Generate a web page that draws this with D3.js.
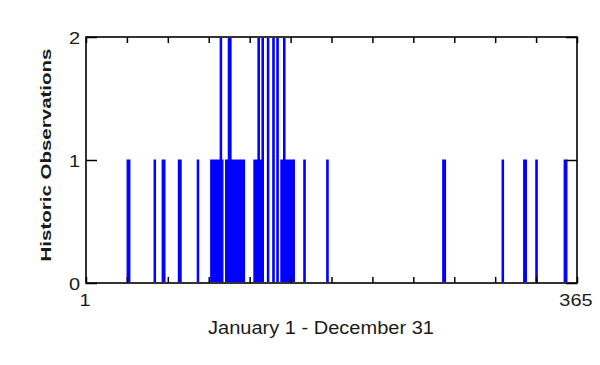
<!DOCTYPE html>
<html>
<head>
<meta charset="utf-8">
<script src="https://cdn.jsdelivr.net/npm/d3@7"></script>
<style>
  body { margin: 0; background: #fff; }
  svg { display: block; }
</style>
</head>
<body>
<svg width="600" height="365"></svg>
<script>
// days of the year that had observations, and how many on each
const obsDays = [
    32, 33, 52, 58, 59, 70, 71, 84,
    94, 95, 96, 97, 98, 99, 100, 101, 102,
    105, 106, 107, 108, 109, 110, 111, 112, 113, 114, 115, 116, 117, 118,
    126, 127, 128, 129, 130, 131, 132,
    136, 140, 143,
    146, 147, 148, 149, 150, 151, 152, 153, 154, 155,
    163, 180, 266, 267, 310, 326, 327, 335, 356, 357
];
const obsCounts = [
    1, 1, 1, 1, 1, 1, 1, 1,
    1, 1, 1, 1, 1, 1, 1, 2, 1,
    1, 1, 2, 2, 1, 1, 1, 1, 1, 1, 1, 1, 1, 1,
    1, 1, 1, 2, 1, 1, 2,
    2, 2, 2,
    1, 1, 2, 1, 1, 1, 1, 1, 1, 1,
    1, 1, 1, 1, 1, 1, 1, 1, 1, 1
];

const firstDay = 1;
const lastDay = 365;
const xTickValues = [1, 31.33, 61.67, 92, 122.33, 152.67, 183, 213.33, 243.67, 274, 304.33, 334.67, 365];
const xTickLabels = { 1: "1", 365: "365" };
const yTickValues = [0, 1, 2];

const xLabel = "January 1 - December 31";
const yLabel = "Historic Observations";

const svg = d3.select("svg");
const margin = { left: 86, right: 23, top: 37, bottom: 82 };
const width = 600 - margin.left - margin.right;
const height = 365 - margin.top - margin.bottom;

const x = d3.scaleLinear().domain([firstDay, lastDay]).range([0, width]);
const y = d3.scaleLinear().domain([0, 2]).range([height, 0]);

// one point per day, zero where nothing was seen
const series = [];
for (let d = firstDay; d <= lastDay; d++) {
    series.push({ day: d, count: 0 });
}
obsDays.forEach(function (d, i) {
    series[d - firstDay].count = obsCounts[i];
});

const g = svg.append("g")
    .attr("transform", "translate(" + margin.left + "," + margin.top + ")");

// keep the flat parts of the line at 0 and 2 under the box
g.append("clipPath").attr("id", "plotClip")
    .append("rect")
    .attr("x", 0).attr("y", 1)
    .attr("width", width).attr("height", height - 2);

// the daily counts come out as solid blue bars
const area = d3.area()
    .x(function (d) { return x(d.day); })
    .y0(y(0))
    .y1(function (d) { return y(d.count); })
    .curve(d3.curveStep);

g.append("path")
    .datum(series)
    .attr("clip-path", "url(#plotClip)")
    .attr("fill", "#0000ff")
    .attr("stroke", "#0000ff")
    .attr("stroke-width", 1.2)
    .attr("d", area);

// inward ticks on all four sides
const fontFamily = "'Liberation Sans', Arial, sans-serif";

function styleAxis(sel) {
    sel.attr("font-family", fontFamily).attr("font-size", 17);
    sel.select(".domain").remove();
    sel.selectAll("line").attr("stroke", "#000").attr("stroke-width", 1.5);
    sel.selectAll("text")
        .attr("fill", "#1a1a1a")
        .attr("lengthAdjust", "spacingAndGlyphs")
        .attr("textLength", function () { return this.textContent.length * 11.1; });
}

g.append("g")
    .attr("transform", "translate(0," + height + ")")
    .call(d3.axisBottom(x).tickValues(xTickValues).tickSize(-6).tickSizeOuter(0).tickPadding(11)
        .tickFormat(function (d) { return xTickLabels[d] || ""; }))
    .call(styleAxis)
    .call(function (sel) { sel.selectAll("text").attr("dx", -1.5); });

g.append("g")
    .call(d3.axisTop(x).tickValues(xTickValues).tickSize(-6).tickSizeOuter(0).tickFormat(""))
    .call(styleAxis);

g.append("g")
    .call(d3.axisLeft(y).tickValues(yTickValues).tickSize(-11).tickSizeOuter(0).tickPadding(6)
        .tickFormat(d3.format("d")))
    .call(styleAxis)
    .call(function (sel) { sel.selectAll("text").attr("dy", 6); });

g.append("g")
    .attr("transform", "translate(" + width + ",0)")
    .call(d3.axisRight(y).tickValues(yTickValues).tickSize(-11).tickSizeOuter(0).tickFormat(""))
    .call(styleAxis);

// box drawn over the data
g.append("rect")
    .attr("x", 0).attr("y", 0)
    .attr("width", width).attr("height", height)
    .attr("fill", "none")
    .attr("stroke", "#000")
    .attr("stroke-width", 1.6);

// axis titles
svg.append("text")
    .attr("x", 208)
    .attr("y", 334)
    .attr("font-family", fontFamily)
    .attr("font-size", 17.5)
    .attr("fill", "#1a1a1a")
    .attr("textLength", 226)
    .attr("lengthAdjust", "spacingAndGlyphs")
    .text(xLabel);

svg.append("text")
    .attr("transform", "translate(51,155) rotate(-90)")
    .attr("text-anchor", "middle")
    .attr("font-family", fontFamily)
    .attr("font-size", 14.5)
    .attr("font-weight", "bold")
    .attr("fill", "#1a1a1a")
    .attr("textLength", 213)
    .attr("lengthAdjust", "spacingAndGlyphs")
    .text(yLabel);
</script>
</body>
</html>
